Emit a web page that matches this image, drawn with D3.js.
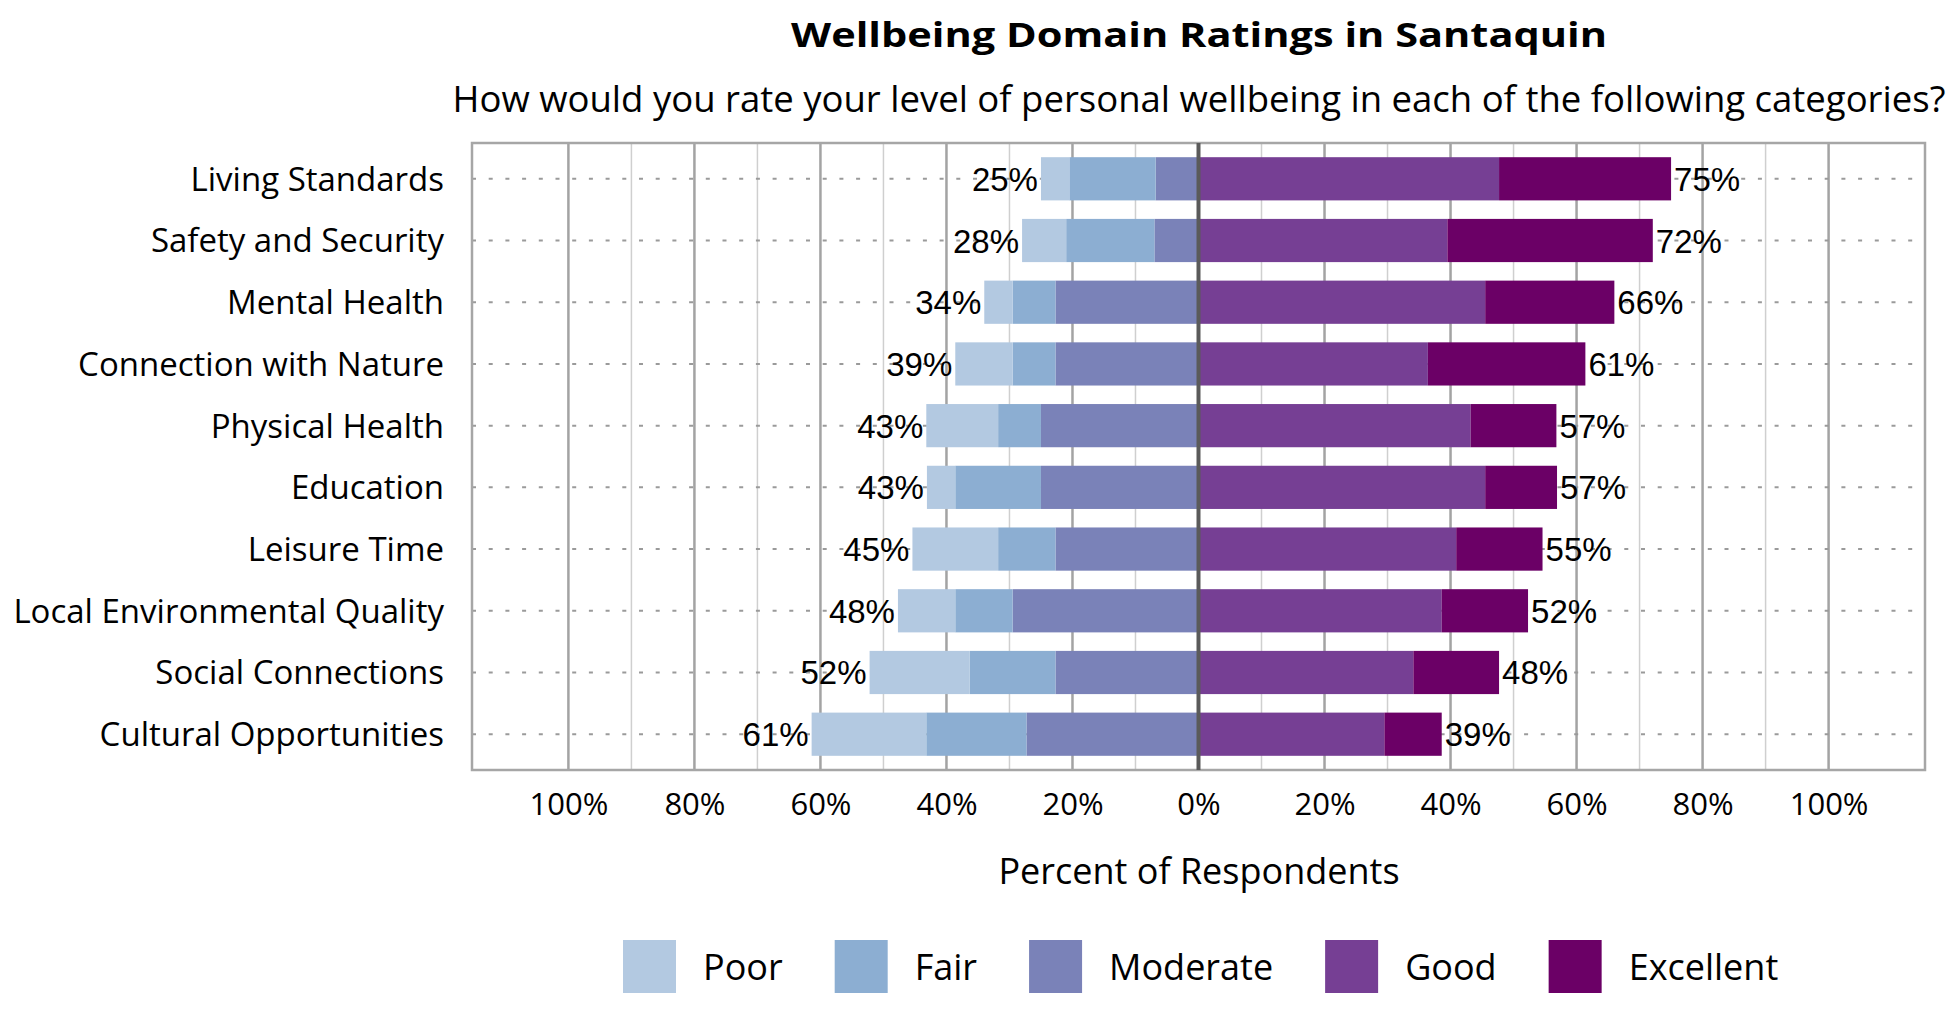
<!DOCTYPE html>
<html>
<head>
<meta charset="utf-8">
<script src="https://cdn.jsdelivr.net/npm/d3@7"></script>
<style>
    body { margin: 0; background: #fff; }
    text { font-family: "Open Sans", sans-serif; fill: #000; }
</style>
</head>
<body>
<div id="chart"></div>
<script>

// survey categories, top to bottom
const categories = ["Living Standards", "Safety and Security", "Mental Health", "Connection with Nature",
    "Physical Health", "Education", "Leisure Time", "Local Environmental Quality",
    "Social Connections", "Cultural Opportunities"];

// percent of respondents per rating
const poor      = [4.5, 7.0, 4.5, 9.1, 11.4, 4.5, 13.6, 9.1, 15.9, 18.2];
const fair      = [13.7, 14.0, 6.8, 6.8, 6.8, 13.6, 9.1, 9.1, 13.6, 15.9];
const moderate  = [6.8, 7.0, 22.7, 22.7, 25.0, 25.0, 22.7, 29.5, 22.7, 27.3];
const good      = [47.7, 39.5, 45.5, 36.4, 43.2, 45.5, 40.9, 38.6, 34.1, 29.5];
const excellent = [27.3, 32.6, 20.5, 25.0, 13.6, 11.4, 13.7, 13.7, 13.6, 9.1];

const ratings = ["Poor", "Fair", "Moderate", "Good", "Excellent"];
const ratingColors = ["#b3c9e1", "#8caed2", "#7a82b8", "#763f94", "#6b0066"];

const tickValues = [-100, -80, -60, -40, -20, 0, 20, 40, 60, 80, 100];


class DivergingBars {
    constructor(parentElement) {
        this.parentElement = parentElement;
        this.displayData = [];

        this.initVis()
    }

    initVis() {
        let vis = this;

        vis.width = 1950;
        vis.height = 1020;
        vis.plot = {left: 472, right: 1925, top: 143, bottom: 770};

        vis.svg = d3.select("#" + vis.parentElement).append("svg")
            .attr("width", vis.width)
            .attr("height", vis.height);

        // chart is symmetric, frame goes a bit past 100% on each side
        vis.x = d3.scaleLinear()
            .domain([-115.3, 115.3])
            .range([vis.plot.left, vis.plot.right]);

        vis.y = d3.scaleBand()
            .domain(categories)
            .range([vis.plot.top, vis.plot.bottom])
            .paddingInner(0.3)
            .paddingOuter(0.23);

        vis.color = d3.scaleOrdinal().domain(ratings).range(ratingColors);

        vis.wrangleData()
    }

    wrangleData() {
        let vis = this;

        let rows = categories.map((c, i) => ({
            category: c,
            Poor: poor[i], Fair: fair[i], Moderate: moderate[i],
            Good: good[i], Excellent: excellent[i]
        }));

        // negative side stacks outwards from zero: Moderate, Fair, Poor
        let leftStack = d3.stack().keys(["Moderate", "Fair", "Poor"])(rows);
        let rightStack = d3.stack().keys(["Good", "Excellent"])(rows);

        vis.displayData = [];
        leftStack.forEach(layer => layer.forEach(s => {
            vis.displayData.push({key: layer.key, category: s.data.category, x0: -s[1], x1: -s[0]});
        }));
        rightStack.forEach(layer => layer.forEach(s => {
            vis.displayData.push({key: layer.key, category: s.data.category, x0: s[0], x1: s[1]});
        }));

        vis.totals = rows.map(r => ({
            category: r.category,
            neg: r.Poor + r.Fair + r.Moderate,
            pos: r.Good + r.Excellent
        }));

        vis.updateVis()
    }

    updateVis() {
        let vis = this;
        let p = vis.plot;

        // titles
        vis.svg.append("text")
            .attr("x", 1199).attr("y", 47)
            .attr("text-anchor", "middle")
            .attr("font-size", 34).attr("font-weight", "bold")
            .attr("textLength", 816).attr("lengthAdjust", "spacingAndGlyphs")
            .text("Wellbeing Domain Ratings in Santaquin");

        vis.svg.append("text")
            .attr("x", 1199).attr("y", 112)
            .attr("text-anchor", "middle")
            .attr("font-size", 36.5)
            .text("How would you rate your level of personal wellbeing in each of the following categories?");

        // vertical grid, every 10%, darker every 20%
        let gridVals = d3.range(-100, 101, 10).filter(d => d !== 0);
        vis.svg.append("g").selectAll("line")
            .data(gridVals)
            .join("line")
            .attr("x1", d => vis.x(d)).attr("x2", d => vis.x(d))
            .attr("y1", p.top).attr("y2", p.bottom)
            .attr("stroke", d => d % 20 === 0 ? "#a3a3a3" : "#cfcfcf")
            .attr("stroke-width", d => d % 20 === 0 ? 2.5 : 1.5);

        // dotted row lines
        vis.svg.append("g").selectAll("line")
            .data(categories)
            .join("line")
            .attr("x1", p.left).attr("x2", p.right)
            .attr("y1", d => vis.y(d) + vis.y.bandwidth() / 2)
            .attr("y2", d => vis.y(d) + vis.y.bandwidth() / 2)
            .attr("stroke", "#9a9a9a")
            .attr("stroke-width", 2)
            .attr("stroke-dasharray", "4,12.7");

        // bars
        vis.svg.append("g").selectAll("rect")
            .data(vis.displayData)
            .join("rect")
            .attr("x", d => vis.x(d.x0))
            .attr("width", d => vis.x(d.x1) - vis.x(d.x0))
            .attr("y", d => vis.y(d.category))
            .attr("height", vis.y.bandwidth())
            .attr("fill", d => vis.color(d.key));

        // frame
        vis.svg.append("rect")
            .attr("x", p.left).attr("y", p.top)
            .attr("width", p.right - p.left).attr("height", p.bottom - p.top)
            .attr("fill", "none")
            .attr("stroke", "#a6a6a6")
            .attr("stroke-width", 2.5);

        // zero line on top
        vis.svg.append("line")
            .attr("x1", vis.x(0)).attr("x2", vis.x(0))
            .attr("y1", p.top).attr("y2", p.bottom)
            .attr("stroke", "#5a5a5a")
            .attr("stroke-width", 4);

        // totals at the ends of the bars
        let labels = vis.svg.append("g");

        labels.selectAll(".neg")
            .data(vis.totals)
            .join("text")
            .attr("class", "neg")
            .attr("x", d => vis.x(-d.neg) - 3)
            .attr("y", d => vis.y(d.category) + vis.y.bandwidth() / 2 + 12)
            .attr("text-anchor", "end")
            .attr("font-size", 33)
            .style("font-family", "'Liberation Sans', Arial, sans-serif")
            .text(d => Math.round(d.neg) + "%");

        labels.selectAll(".pos")
            .data(vis.totals)
            .join("text")
            .attr("class", "pos")
            .attr("x", d => vis.x(d.pos) + 3)
            .attr("y", d => vis.y(d.category) + vis.y.bandwidth() / 2 + 12)
            .attr("font-size", 33)
            .style("font-family", "'Liberation Sans', Arial, sans-serif")
            .text(d => Math.round(d.pos) + "%");

        // category axis
        let yAxis = vis.svg.append("g")
            .attr("transform", `translate(${p.left}, 0)`)
            .call(d3.axisLeft(vis.y).tickSize(0).tickPadding(28));
        yAxis.select(".domain").remove();
        yAxis.selectAll("text")
            .attr("font-size", 33)
            .attr("dy", "0.36em")
            .style("font-family", "'Open Sans', sans-serif")
            .attr("fill", "#000");

        // percent axis
        let xAxis = vis.svg.append("g")
            .attr("transform", `translate(0, ${p.bottom})`)
            .call(d3.axisBottom(vis.x)
                .tickValues(tickValues)
                .tickFormat(d => Math.abs(d) + "%")
                .tickSize(0)
                .tickPadding(23));
        xAxis.select(".domain").remove();
        xAxis.selectAll("text")
            .attr("font-size", 31)
            .style("font-family", "'Open Sans', sans-serif")
            .attr("fill", "#000");

        vis.svg.append("text")
            .attr("x", 1199).attr("y", 884)
            .attr("text-anchor", "middle")
            .attr("font-size", 36)
            .text("Percent of Respondents");

        // legend, laid out left to right by label width
        let legend = vis.svg.append("g");
        let lx = 623;
        ratings.forEach(r => {
            legend.append("rect")
                .attr("x", lx).attr("y", 940)
                .attr("width", 53).attr("height", 53)
                .attr("fill", vis.color(r));
            let t = legend.append("text")
                .attr("x", lx + 80).attr("y", 980)
                .attr("font-size", 36)
                .text(r);
            lx += 80 + t.node().getComputedTextLength() + 52;
        });
    }
}

new DivergingBars("chart");

</script>
</body>
</html>
